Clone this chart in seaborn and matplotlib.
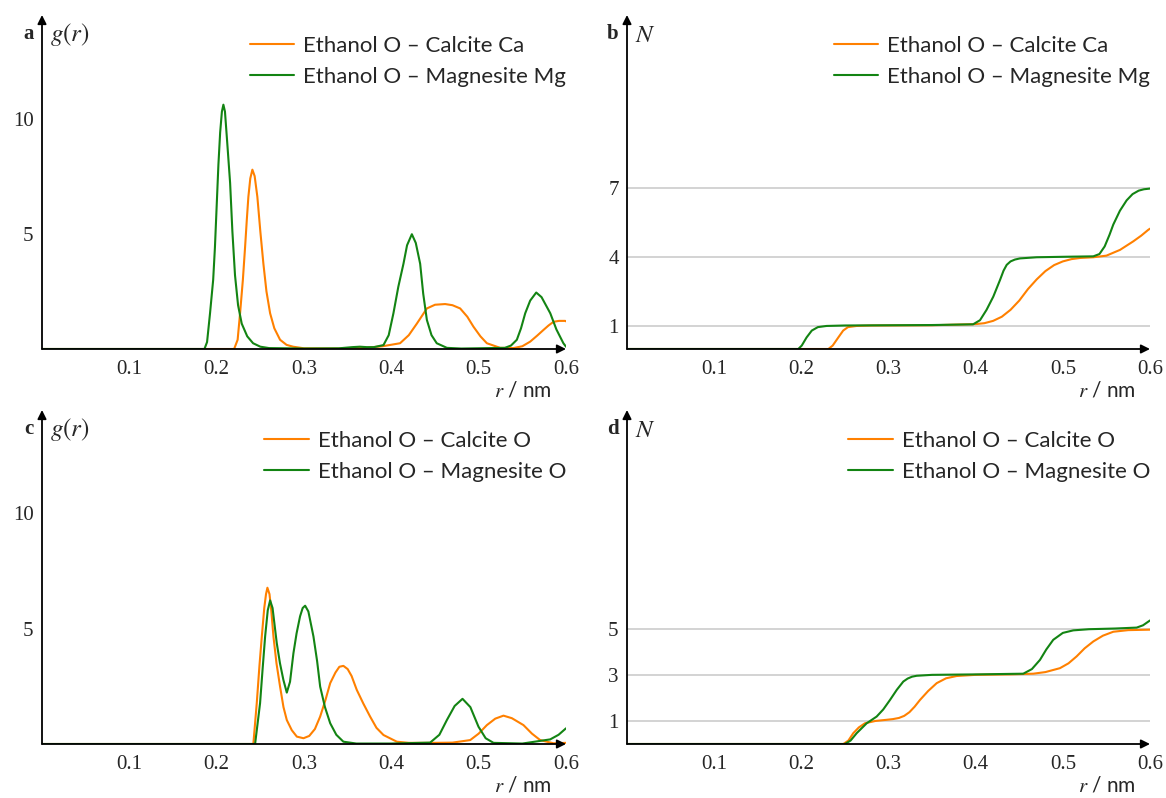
import numpy as np
import pandas as pd
import seaborn as sns
import matplotlib
matplotlib.use("Agg")
import matplotlib.pyplot as plt

# ---------------- data ----------------
# Panel a: g(r), Ethanol O - Calcite Ca / Magnesite Mg
a_ca_r = [0, 0.22, 0.224, 0.2268, 0.23, 0.2325, 0.2345, 0.2363, 0.2385, 0.2409, 0.2435, 0.2466, 0.25, 0.2535,
          0.257, 0.2612, 0.266, 0.2726, 0.28, 0.2875, 0.30, 0.34, 0.37, 0.39, 0.41, 0.42, 0.4292, 0.4407, 0.45,
          0.4616, 0.47, 0.4788, 0.487, 0.494, 0.502, 0.5094, 0.5246, 0.54, 0.55, 0.559, 0.567, 0.574, 0.58,
          0.5857, 0.592, 0.599, 0.6]
a_ca_g = [0, 0, 0.4, 1.55, 3.0, 4.4, 5.6, 6.6, 7.4, 7.78, 7.5, 6.6, 5.1, 3.7, 2.5, 1.55, 0.9, 0.4, 0.18, 0.1,
          0.03, 0.02, 0.05, 0.12, 0.25, 0.6, 1.1, 1.76, 1.92, 1.95, 1.9, 1.76, 1.4, 0.97, 0.55, 0.25, 0.05,
          0.04, 0.12, 0.32, 0.58, 0.82, 1.02, 1.18, 1.22, 1.22, 1.2]
a_mg_r = [0, 0.186, 0.189, 0.1924, 0.196, 0.198, 0.200, 0.202, 0.204, 0.206, 0.2077, 0.2095, 0.212, 0.2154,
          0.218, 0.221, 0.2245, 0.2287, 0.235, 0.2417, 0.25, 0.26, 0.30, 0.34, 0.355, 0.364, 0.372, 0.38,
          0.391, 0.397, 0.4024, 0.408, 0.4139, 0.418, 0.4235, 0.428, 0.433, 0.4365, 0.4407, 0.446, 0.452,
          0.4636, 0.48, 0.53, 0.537, 0.5437, 0.5485, 0.5533, 0.559, 0.5659, 0.572, 0.577, 0.582, 0.589,
          0.597, 0.6]
a_mg_g = [0, 0, 0.3, 1.55, 3.0, 4.4, 6.2, 8.0, 9.4, 10.3, 10.6, 10.3, 9.0, 7.2, 5.1, 3.2, 1.9, 1.1, 0.55,
          0.25, 0.1, 0.04, 0.02, 0.03, 0.08, 0.1, 0.08, 0.08, 0.17, 0.6, 1.55, 2.7, 3.7, 4.5, 4.98, 4.6, 3.7,
          2.4, 1.26, 0.6, 0.25, 0.05, 0.02, 0.05, 0.15, 0.4, 0.9, 1.55, 2.1, 2.45, 2.25, 1.9, 1.55, 0.85,
          0.25, 0.1]

# Panel b: N(r)
b_ca_r = [0, 0.231, 0.236, 0.2424, 0.248, 0.2535, 0.2635, 0.28, 0.35, 0.40, 0.41, 0.42, 0.43, 0.44, 0.45,
          0.46, 0.47, 0.48, 0.49, 0.50, 0.51, 0.52, 0.535, 0.55, 0.5656, 0.5808, 0.59, 0.598, 0.6]
b_ca_n = [0, 0, 0.15, 0.5, 0.8, 0.95, 1.0, 1.02, 1.03, 1.08, 1.12, 1.22, 1.4, 1.7, 2.1, 2.6, 3.02, 3.38,
          3.64, 3.8, 3.9, 3.95, 3.98, 4.05, 4.3, 4.67, 4.92, 5.17, 5.22]
b_mg_r = [0, 0.1965, 0.2005, 0.206, 0.212, 0.219, 0.229, 0.25, 0.30, 0.35, 0.397, 0.405, 0.4125, 0.4202,
          0.428, 0.432, 0.4356, 0.44, 0.445, 0.4508, 0.47, 0.50, 0.535, 0.542, 0.548, 0.5535, 0.5579, 0.5655,
          0.5732, 0.58, 0.587, 0.593, 0.6]
b_mg_n = [0, 0, 0.15, 0.5, 0.8, 0.95, 1.0, 1.02, 1.03, 1.04, 1.07, 1.25, 1.7, 2.27, 3.0, 3.4, 3.65, 3.8,
          3.88, 3.93, 3.98, 4.0, 4.02, 4.12, 4.45, 4.95, 5.4, 6.0, 6.45, 6.72, 6.87, 6.93, 6.96]

# Panel c: g(r), Ethanol O - Calcite O / Magnesite O
c_ca_r = [0, 0.242, 0.2459, 0.249, 0.2517, 0.2545, 0.2565, 0.2581, 0.2605, 0.2625, 0.265, 0.2685, 0.2726,
          0.2765, 0.2803, 0.286, 0.2918, 0.2994, 0.306, 0.3125, 0.3185, 0.3245, 0.33, 0.336, 0.3405, 0.3451,
          0.35, 0.3545, 0.3604, 0.368, 0.3757, 0.383, 0.391, 0.4063, 0.42, 0.45, 0.47, 0.4903, 0.50, 0.5094,
          0.519, 0.5284, 0.538, 0.5513, 0.561, 0.5704, 0.5857, 0.6]
c_ca_g = [0, 0, 1.77, 3.4, 4.67, 5.9, 6.5, 6.78, 6.5, 5.8, 4.67, 3.5, 2.49, 1.6, 1.04, 0.6, 0.32, 0.25,
          0.35, 0.65, 1.19, 1.9, 2.64, 3.1, 3.35, 3.39, 3.25, 2.95, 2.35, 1.75, 1.19, 0.7, 0.39, 0.1, 0.05,
          0.05, 0.06, 0.17, 0.45, 0.82, 1.1, 1.23, 1.12, 0.82, 0.45, 0.17, 0.03, 0.05]
c_mg_r = [0, 0.244, 0.2497, 0.2525, 0.2555, 0.2585, 0.2612, 0.264, 0.2688, 0.2725, 0.2764, 0.2803, 0.284,
          0.2879, 0.2915, 0.2955, 0.2985, 0.3013, 0.305, 0.3108, 0.315, 0.3185, 0.324, 0.33, 0.337, 0.3451,
          0.36, 0.40, 0.4444, 0.455, 0.4636, 0.4725, 0.4815, 0.4905, 0.4998, 0.508, 0.517, 0.55, 0.5819,
          0.5915, 0.6]
c_mg_g = [0, 0, 1.77, 3.2, 4.67, 5.8, 6.23, 5.9, 4.38, 3.5, 2.78, 2.23, 2.7, 3.94, 4.8, 5.54, 5.9, 6.0,
          5.75, 4.67, 3.6, 2.49, 1.6, 0.9, 0.4, 0.1, 0.02, 0.02, 0.06, 0.4, 1.04, 1.65, 1.96, 1.6, 0.75,
          0.25, 0.05, 0.02, 0.2, 0.4, 0.68]

# Panel d: N(r)
d_ca_r = [0, 0.2482, 0.254, 0.2596, 0.266, 0.273, 0.285, 0.2979, 0.305, 0.312, 0.318, 0.324, 0.33, 0.3361,
          0.3455, 0.3553, 0.366, 0.3782, 0.40, 0.44, 0.4661, 0.48, 0.4967, 0.5065, 0.5158, 0.525, 0.535,
          0.546, 0.5579, 0.575, 0.6]
d_ca_n = [0, 0, 0.15, 0.47, 0.72, 0.9, 1.0, 1.05, 1.08, 1.13, 1.22, 1.38, 1.62, 1.91, 2.3, 2.64, 2.85,
          2.95, 3.0, 3.02, 3.05, 3.12, 3.29, 3.5, 3.8, 4.15, 4.45, 4.7, 4.87, 4.94, 4.96]
d_mg_r = [0, 0.25, 0.2565, 0.2635, 0.275, 0.2864, 0.294, 0.3017, 0.3095, 0.317, 0.322, 0.327, 0.3323, 0.35,
          0.40, 0.4546, 0.4645, 0.4738, 0.481, 0.489, 0.5, 0.512, 0.53, 0.56, 0.5847, 0.592, 0.6]
d_mg_n = [0, 0, 0.15, 0.47, 0.9, 1.19, 1.5, 1.91, 2.35, 2.71, 2.84, 2.92, 2.96, 3.0, 3.02, 3.05, 3.25, 3.65,
          4.1, 4.52, 4.82, 4.93, 4.98, 5.01, 5.05, 5.15, 5.36]

x_ticks = [0.1, 0.2, 0.3, 0.4, 0.5, 0.6]
x_ticklabels = ["0.1", "0.2", "0.3", "0.4", "0.5", "0.6"]
yt_a = [5, 10]
yt_b = [1, 4, 7]
yt_c = [5, 10]
yt_d = [1, 3, 5]

labels_ab = ["Ethanol O – Calcite Ca", "Ethanol O – Magnesite Mg"]
labels_cd = ["Ethanol O – Calcite O", "Ethanol O – Magnesite O"]
panel_letters = ["a", "b", "c", "d"]
ylabels = ["$g(r)$", "$N$", "$g(r)$", "$N$"]

# ---------------- style ----------------
sns.set_style("white")
plt.rcParams["font.family"] = ["Lato", "DejaVu Sans"]
plt.rcParams["mathtext.fontset"] = "stix"

ORANGE = "#ff8000"
GREEN = "#138413"
SERIF = ["Liberation Serif", "DejaVu Serif"]

W, H = 1166, 798
fig = plt.figure(figsize=(W / 100, H / 100), dpi=100)

def ax_rect(x0, y_axis, x1, y_top):
    return [x0 / W, 1 - y_axis / H, (x1 - x0) / W, (y_axis - y_top) / H]

ymax = 334 / 23.05
axes = [
    fig.add_axes(ax_rect(42, 349, 566, 15)),
    fig.add_axes(ax_rect(627, 349, 1150, 15)),
    fig.add_axes(ax_rect(42, 744, 566, 410)),
    fig.add_axes(ax_rect(627, 744, 1150, 410)),
]

series = [
    ((a_ca_r, a_ca_g), (a_mg_r, a_mg_g), labels_ab, yt_a, False),
    ((b_ca_r, b_ca_n), (b_mg_r, b_mg_n), labels_ab, yt_b, True),
    ((c_ca_r, c_ca_g), (c_mg_r, c_mg_g), labels_cd, yt_c, False),
    ((d_ca_r, d_ca_n), (d_mg_r, d_mg_n), labels_cd, yt_d, True),
]

for i, (ax, (s1, s2, labs, yt, grid)) in enumerate(zip(axes, series)):
    df1 = pd.DataFrame({"r": s1[0], "v": s1[1]})
    df2 = pd.DataFrame({"r": s2[0], "v": s2[1]})
    sns.lineplot(data=df1, x="r", y="v", ax=ax, color=ORANGE, lw=1.5, label=labs[0],
                 estimator=None, sort=False, zorder=3)
    sns.lineplot(data=df2, x="r", y="v", ax=ax, color=GREEN, lw=1.5, label=labs[1],
                 estimator=None, sort=False, zorder=4)
    ax.set_xlim(0, 0.6)
    ax.set_ylim(0, ymax)
    ax.set_xlabel("")
    ax.set_ylabel("")
    for sp in ax.spines.values():
        sp.set_visible(False)
    ax.set_xticks(x_ticks)
    ax.set_xticklabels(x_ticklabels)
    ax.set_yticks(yt)
    ax.set_yticklabels([str(v) for v in yt])
    ax.tick_params(axis="both", direction="inout", length=6, width=1.1, color="black",
                   labelsize=15, pad=3)
    ax.tick_params(axis="x", pad=5)
    for lab in ax.get_xticklabels() + ax.get_yticklabels():
        lab.set_family(SERIF)
    if grid:
        ax.yaxis.grid(True, color="#c8c8c8", lw=1.1)
        ax.set_axisbelow(True)
    # axis arrows
    ax.annotate("", xy=(1.0, 0), xytext=(0, 0), xycoords="axes fraction",
                arrowprops=dict(arrowstyle="-|>", lw=1.3, color="black",
                                mutation_scale=13, shrinkA=0, shrinkB=0), zorder=5)
    ax.annotate("", xy=(0, 1.0), xytext=(0, 0), xycoords="axes fraction",
                arrowprops=dict(arrowstyle="-|>", lw=1.3, color="black",
                                mutation_scale=13, shrinkA=0, shrinkB=0), zorder=5)
    # panel letter and y label
    ax.annotate(panel_letters[i], xy=(0, 1), xycoords="axes fraction",
                xytext=(-6, -14), textcoords="offset points", ha="right", va="center",
                fontsize=15, fontweight="bold", family=SERIF)
    ax.annotate(ylabels[i], xy=(0, 1), xycoords="axes fraction",
                xytext=(6, -14), textcoords="offset points", ha="left", va="center",
                fontsize=18)
    # x label
    ax.annotate("$r$ / nm", xy=(1, 0), xycoords="axes fraction",
                xytext=(-10, -30), textcoords="offset points", ha="right", va="center",
                fontsize=15)
    ax.legend(loc="upper right", bbox_to_anchor=(1.0, 1.0 - 21 / 334), frameon=False,
              fontsize=16, handlelength=2.0, handletextpad=0.4, labelspacing=0.49,
              borderaxespad=0, borderpad=0)

fig.savefig("out.png", dpi=100)
